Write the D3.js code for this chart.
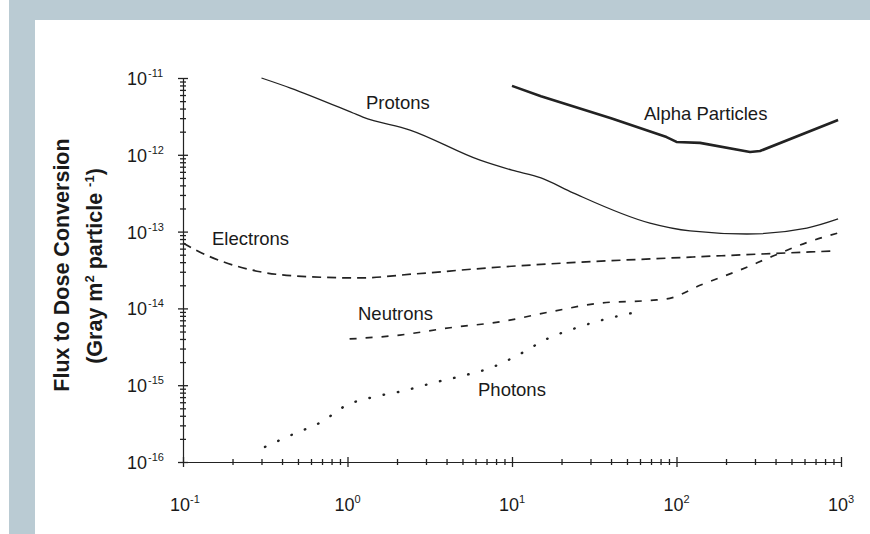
<!DOCTYPE html>
<html>
<head>
<meta charset="utf-8">
<script src="https://cdn.jsdelivr.net/npm/d3@7"></script>
<style>
  body { margin: 0; background: #fff; }
  text { font-family: "Liberation Sans", Arial, sans-serif; fill: #1a1a1a; }
</style>
</head>
<body>
<div id="chart"></div>
<script>
// energies (MeV) and flux-to-dose values (Gy m^2 per particle)
let protonE = [0.3, 0.45, 1.08, 1.24, 2.4, 6.4, 10, 15, 23.5, 69, 121, 268, 620, 960];
let protonV = [1e-11, 7.4e-12, 3.5e-12, 3.1e-12, 2.1e-12, 8.5e-13, 6.3e-13, 5.0e-13, 3.2e-13, 1.29e-13, 1.02e-13, 9.3e-14, 1.11e-13, 1.46e-13];

let alphaE = [10, 15, 40, 87, 100, 139, 280, 322, 960];
let alphaV = [7.9e-12, 5.8e-12, 3.0e-12, 1.7e-12, 1.47e-12, 1.43e-12, 1.09e-12, 1.12e-12, 2.84e-12];

let electronE = [0.1, 0.127, 0.294, 0.49, 1.19, 2.5, 8.5, 17, 126, 920];
let electronV = [7.1e-14, 5.4e-14, 3.0e-14, 2.64e-14, 2.49e-14, 2.8e-14, 3.46e-14, 3.8e-14, 4.67e-14, 5.6e-14];

let neutronE = [1.03, 2.08, 4.2, 8.5, 17, 34, 76, 91, 139, 243, 386, 630, 960];
let neutronV = [4.0e-15, 4.5e-15, 5.6e-15, 6.7e-15, 9.0e-15, 1.17e-14, 1.29e-14, 1.35e-14, 2.0e-14, 3.16e-14, 4.8e-14, 7.3e-14, 9.6e-14];

let photonE = [0.315, 0.467, 0.69, 0.99, 1.43, 2.17, 3.3, 4.97, 7.35, 10.9, 16.3, 23.5, 35.7, 53.6];
let photonV = [1.57e-16, 2.3e-16, 3.3e-16, 5.5e-16, 7.0e-16, 8.4e-16, 1.07e-15, 1.32e-15, 1.67e-15, 2.47e-15, 4.0e-15, 5.4e-15, 7.1e-15, 8.7e-15];

let xDecades = [-1, 0, 1, 2, 3];
let yDecades = [-16, -15, -14, -13, -12, -11];

let drawing = d3.select("#chart")
    .append("svg")
    .attr("width", 870)
    .attr("height", 534);

// grey frame at top and left
drawing.append("rect").attr("x", 9).attr("y", 0).attr("width", 861).attr("height", 20).attr("fill", "#bacbd3");
drawing.append("rect").attr("x", 9).attr("y", 0).attr("width", 26).attr("height", 534).attr("fill", "#bacbd3");

let x = d3.scaleLog().domain([0.1, 1000]).range([183, 841]);
let y = d3.scaleLog().domain([1e-16, 1e-11]).range([462, 78]);

// minor ticks 2..9 in every decade
function minorTicks(lo, hi) {
    let out = [];
    for (let d = lo; d < hi; d++) {
        for (let m = 2; m <= 9; m++) out.push(m * Math.pow(10, d));
    }
    return out;
}

// x axis
let xAxis = drawing.append("g")
    .attr("transform", "translate(0,462)")
    .call(d3.axisBottom(x).tickValues(minorTicks(-1, 3)).tickFormat("").tickSizeOuter(0).tickSizeInner(3));
xAxis.select(".domain").attr("stroke", "#222").attr("stroke-width", 1.2);
xAxis.selectAll(".tick line").attr("y1", -3).attr("y2", 3).attr("stroke", "#222").attr("stroke-width", 1.3);

let xMajor = drawing.append("g")
    .attr("transform", "translate(0,462)")
    .call(d3.axisBottom(x).tickValues(xDecades.map(d => Math.pow(10, d))).tickFormat("").tickSizeOuter(0));
xMajor.select(".domain").remove();
xMajor.selectAll(".tick line").attr("y1", -5).attr("y2", 5).attr("stroke", "#222").attr("stroke-width", 1.3);

// y axis
let yAxis = drawing.append("g")
    .attr("transform", "translate(183,0)")
    .call(d3.axisLeft(y).tickValues(minorTicks(-16, -11)).tickFormat("").tickSizeOuter(0).tickSizeInner(3));
yAxis.select(".domain").attr("stroke", "#222").attr("stroke-width", 1.2);
yAxis.selectAll(".tick line").attr("x1", -3).attr("x2", 3).attr("stroke", "#222").attr("stroke-width", 1.3);

let yMajor = drawing.append("g")
    .attr("transform", "translate(183,0)")
    .call(d3.axisLeft(y).tickValues(yDecades.map(d => Math.pow(10, d))).tickFormat("").tickSizeOuter(0));
yMajor.select(".domain").remove();
yMajor.selectAll(".tick line").attr("x1", -5).attr("x2", 5).attr("stroke", "#222").attr("stroke-width", 1.3);

// tick labels with superscripts
let xLab = drawing.selectAll(".xlab").data(xDecades).enter().append("text")
    .attr("x", d => x(Math.pow(10, d)) - 13)
    .attr("y", 511)
    .attr("font-size", 18);
xLab.append("tspan").text("10");
xLab.append("tspan").attr("font-size", 11).attr("dy", -8).text(d => d < 0 ? "-" + (-d) : d);

let yLab = drawing.selectAll(".ylab").data(yDecades).enter().append("text")
    .attr("x", 127)
    .attr("y", d => y(Math.pow(10, d)) + 7)
    .attr("font-size", 18);
yLab.append("tspan").text("10");
yLab.append("tspan").attr("font-size", 11).attr("dx", 1).attr("dy", -8).text(d => "-" + (-d));

// axis title
drawing.append("text")
    .attr("transform", "translate(69,265) rotate(-90)")
    .attr("text-anchor", "middle")
    .attr("font-size", 21.5)
    .attr("font-weight", "bold")
    .text("Flux to Dose Conversion");

let t2 = drawing.append("text")
    .attr("transform", "translate(102,266) rotate(-90)")
    .attr("text-anchor", "middle")
    .attr("font-size", 21.5)
    .attr("font-weight", "bold");
t2.append("tspan").text("(Gray m");
t2.append("tspan").attr("font-size", 13).attr("dy", -8).text("2");
t2.append("tspan").attr("dy", 8).text(" particle ");
t2.append("tspan").attr("font-size", 13).attr("dy", -8).text("-1");
t2.append("tspan").attr("dy", 8).text(")");

// curves
let line = d3.line()
    .x(d => x(d[0]))
    .y(d => y(d[1]))
    .curve(d3.curveMonotoneX);

let straightLine = d3.line()
    .x(d => x(d[0]))
    .y(d => y(d[1]));

function drawCurve(es, vs, width, dash, cap, gen) {
    drawing.append("path")
        .datum(d3.zip(es, vs))
        .attr("d", gen || line)
        .attr("fill", "none")
        .attr("stroke", "#222")
        .attr("stroke-width", width)
        .attr("stroke-dasharray", dash)
        .attr("stroke-linecap", cap)
        .attr("stroke-linejoin", "round");
}

drawCurve(protonE, protonV, 1.3, null, "butt");
drawCurve(alphaE, alphaV, 2.6, null, "butt", straightLine);
drawCurve(electronE, electronV, 1.7, "9,6", "butt");
drawCurve(neutronE, neutronV, 1.7, "7,9", "butt");
drawCurve(photonE, photonV, 2.4, "0.5,14", "round");

// curve labels
let labels = [
    ["Protons", 366, 109],
    ["Alpha Particles", 644, 120],
    ["Electrons", 212, 245],
    ["Neutrons", 358, 320],
    ["Photons", 478, 396]
];
drawing.selectAll(".clab").data(labels).enter().append("text")
    .attr("x", d => d[1])
    .attr("y", d => d[2])
    .attr("font-size", 18.5)
    .text(d => d[0]);
</script>
</body>
</html>
